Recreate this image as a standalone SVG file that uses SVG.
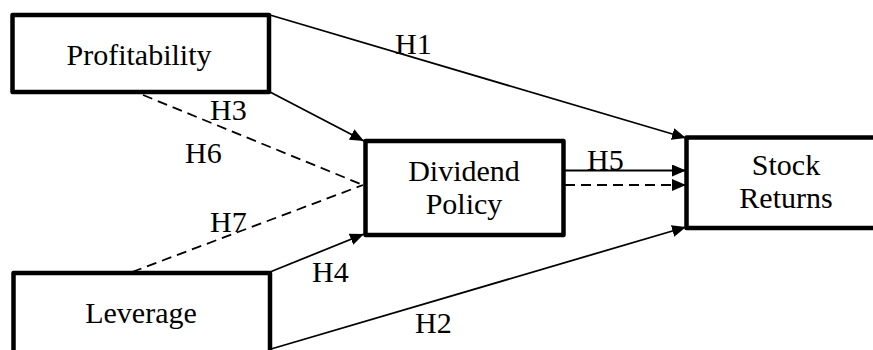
<svg xmlns="http://www.w3.org/2000/svg" width="873" height="350" viewBox="0 0 873 350">
<style>
.box{fill:#fff;stroke:#000;stroke-width:4.5;stroke-linejoin:round}
.t{font-size:30px;fill:#000}
.c{text-anchor:middle}
.ln{stroke:#000;stroke-width:1.8;fill:none}
.d{stroke-dasharray:10 6}
</style>
<defs>
<marker id="ah" markerUnits="userSpaceOnUse" markerWidth="14" markerHeight="12" refX="14" refY="6" orient="auto">
<path d="M0,0 L14,6 L0,12 z" fill="#000"/>
</marker>
</defs>
<rect width="873" height="350" fill="#fff"/>
<g font-family="Liberation Serif, Times New Roman, serif">
<g id="connectors">
<line class="ln" x1="270" y1="15" x2="686" y2="138" marker-end="url(#ah)"/>
<line class="ln" x1="270" y1="92" x2="364" y2="141" marker-end="url(#ah)"/>
<line class="ln d" x1="143" y1="95" x2="363" y2="185"/>
<line class="ln d" x1="132" y1="272" x2="363" y2="185"/>
<line class="ln" x1="270" y1="272" x2="364" y2="234" marker-end="url(#ah)"/>
<line class="ln" x1="271" y1="349" x2="686" y2="227" marker-end="url(#ah)"/>
<line class="ln" x1="565" y1="170.5" x2="686" y2="170.5" marker-end="url(#ah)"/>
<line class="ln d" x1="565" y1="185" x2="686" y2="185" marker-end="url(#ah)"/>
<text class="t" x="395" y="54">H1</text>
<text class="t" x="210" y="120">H3</text>
<text class="t" x="185" y="163">H6</text>
<text class="t" x="587" y="170">H5</text>
<text class="t" x="210" y="232">H7</text>
<text class="t" x="312" y="282">H4</text>
<text class="t" x="415" y="333">H2</text>
</g>
<g id="profitability">
<rect class="box" x="12.5" y="15" width="256.5" height="77"/>
<text class="t c" x="139" y="65">Profitability</text>
</g>
<g id="dividend-policy">
<rect class="box" x="365.5" y="141" width="198" height="94"/>
<text class="t c" x="464" y="181">Dividend</text>
<text class="t c" x="464" y="214">Policy</text>
</g>
<g id="stock-returns">
<rect class="box" x="686.5" y="137.5" width="200" height="90.5"/>
<text class="t c" x="786" y="175">Stock</text>
<text class="t c" x="786" y="208">Returns</text>
</g>
<g id="leverage">
<rect class="box" x="13.5" y="273" width="256.5" height="85"/>
<text class="t c" x="141" y="323">Leverage</text>
</g>
</g>
</svg>
